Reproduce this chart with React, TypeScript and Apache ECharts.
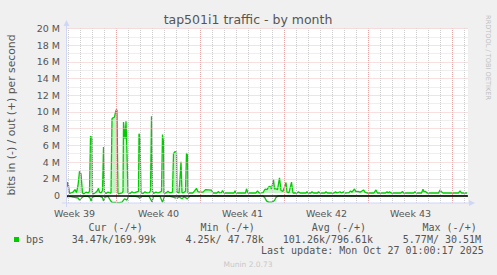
import React, { useEffect, useRef } from "react";
import * as echarts from "echarts";

// time in hours relative to the start of Week 40; values in Mbit/s
const outHours = [-99,-98,-96,-94,-91,-87,-83,-80,-77,-74,-71,-68,-65,-61,-57,-54,-52,-49,-48,-46,-43,-39,-36,-34,-31,-28,-26,-24,-21,-17,-13,-11,-9,-7,-4,-2,0,1,3,4,7,11,13,14,17,19,21,23,27,31,35,39,44,45,47,49,53,57,61,66,68,70,72,74,79,83,90,92,94,95,99,103,107,112,114,117,120,121,125,128,129,131,133,138,140,142,143,147,153,160,163,167,173,178,190,193,201,204,206,210,212,215,235,237,239,258,260,263,279,282,285,293,297,301,304,307,310,314,316,319,322,326,329,333,339,341,345,350,353,361,364,367,379,381,383,389,391,394,402,404,407,417,419,422,435,438,441,447,450,454,457,465,468,471,476,479,483,487,490,494,497,501,515,519,522,538,541,543,546,549,569,572,574,594,597,600,610,613,615,618,621,644,647,650,653,684,687,690,701];
const outMbps = [1.0,1.6,1.2,0.25,0.3,0.4,0.7,0.35,1.2,2.9,2.6,0.3,0.2,0.4,0.3,0.5,7.1,6.9,0.3,0.2,0.3,0.5,0.85,0.4,0.3,0.6,5.8,0.4,0.25,0.4,0.3,0.3,9.2,9.3,9.4,10.0,10.3,10.2,0.3,0.2,0.25,0.3,0.5,8.8,6.8,8.9,5.0,0.3,0.25,0.45,0.3,0.4,0.5,7.4,7.0,0.3,0.25,0.45,0.3,0.35,0.6,9.5,0.5,0.25,0.4,0.3,0.5,7.3,6.4,0.3,0.3,0.5,0.3,0.4,5.0,5.26,5.2,0.4,0.3,3.0,4.05,0.4,0.3,0.5,5.1,4.8,0.3,0.3,0.3,0.85,0.45,0.4,0.4,0.7,0.65,0.3,0.3,0.5,0.3,0.35,0.6,0.3,0.3,0.55,0.3,0.3,0.8,0.3,0.3,0.55,0.3,0.35,0.75,0.7,1.0,1.1,0.8,1.9,0.8,0.8,0.7,2.1,0.6,0.5,1.55,0.4,0.35,1.6,0.3,0.3,0.45,0.3,0.3,0.45,0.3,0.3,0.45,0.3,0.3,0.45,0.3,0.3,0.45,0.3,0.3,0.45,0.3,0.45,0.3,0.45,0.3,0.35,0.55,0.4,0.78,0.45,0.5,0.4,0.5,0.66,0.4,0.3,0.3,0.66,0.3,0.3,0.45,0.3,0.45,0.3,0.3,0.5,0.3,0.3,0.45,0.3,0.3,0.75,0.45,0.5,0.3,0.3,0.66,0.45,0.3,0.3,0.55,0.3,0.3];
const inHours = [-99,-93,-87,-81,-77,-74,-70,-65,-57,-53,-51,-48,-43,-33,-28,-26,-23,-17,-12,-9,-1,5,11,16,21,24,37,43,47,51,65,71,74,87,92,96,107,113,121,125,131,135,142,147,293,297,300,304,311,316,319,323,701];
const inMbps = [-0.15,-0.1,-0.2,-0.25,-0.3,-0.55,-0.3,-0.1,-0.1,-0.3,-0.65,-0.2,-0.1,-0.1,-0.25,-0.65,-0.2,-0.1,-0.6,-0.82,-0.82,-0.85,-0.8,-0.4,-0.55,-0.1,-0.1,-0.15,-0.35,-0.1,-0.1,-0.75,-0.1,-0.1,-0.82,-0.1,-0.1,-0.2,-0.35,-0.15,-0.4,-0.15,-0.4,-0.05,-0.05,-0.3,-0.65,-0.8,-0.8,-0.6,-0.25,-0.05,-0.05];

const weekCenters = [-84, 84, 252, 420, 588];
const weekLabels = ["Week 39", "Week 40", "Week 41", "Week 42", "Week 43"];
const weekStarts = [0, 168, 336, 504, 672];
const yTicks = [0, 2, 4, 6, 8, 10, 12, 14, 16, 18, 20];

const legendHeaders = ["Cur (-/+)", "Min (-/+)", "Avg (-/+)", "Max (-/+)"];
const legendValues = ["34.47k/169.99k", "4.25k/ 47.78k", "101.26k/796.61k", "5.77M/ 30.51M"];
const seriesName = "bps";
const lastUpdate = "Last update: Mon Oct 27 01:00:17 2025";

const X_MIN = -100;
const X_MAX = 703;
const GREEN = "#00cc00";
const MGRID_V = "#eaa4a4";
const GRID_V = "#cccccc";
const MGRID_H = "#f2c0c0";
const GRID_H = "#dedede";
const AXIS = "#cfd6f8";
const FONT = "#555555";
const SANS = "DejaVu Sans";
const MONO = "DejaVu Sans Mono";

export default function App() {
  const ref = useRef<HTMLDivElement>(null);
  useEffect(() => {
    if (!ref.current) return;
    const chart = echarts.init(ref.current, undefined, { renderer: "svg" });

    const gridLines: any[] = [];
    for (let h = -96; h <= 696; h += 24) {
      const major = weekStarts.includes(h);
      gridLines.push({ xAxis: h, lineStyle: { color: major ? MGRID_V : GRID_V, type: [1, 1], width: 1 } });
    }
    for (let m = 1; m <= 20; m++) {
      const major = m % 2 === 0;
      gridLines.push({ yAxis: m * 1e6, lineStyle: { color: major ? MGRID_H : GRID_H, type: [1, 1], width: 1 } });
    }

    const outData = outHours.map((h, i) => [h, outMbps[i] * 1e6]);
    const inData = inHours.map((h, i) => [h, inMbps[i] * 1e6]);

    const headerX = [88.5, 200.5, 311.8, 422.5];
    const valueX = [71.8, 185.5, 282.8, 402.8];

    const graphic: any[] = [
      { type: "text", x: 248, y: 19.6, style: { text: "tap501i1 traffic - by month", font: `12.5px "${SANS}"`, fill: FONT, align: "center", verticalAlign: "middle" } },
      { type: "text", x: 11, y: 115, rotation: Math.PI / 2, style: { text: "bits in (-) / out (+) per second", font: `10.8px "${SANS}"`, fill: FONT, align: "center", verticalAlign: "middle" } },
      { type: "text", x: 488, y: 57.5, rotation: -Math.PI / 2, style: { text: "RRDTOOL / TOBI OETIKER", font: `6.6px "${SANS}"`, fill: "#c0c0c0", align: "center", verticalAlign: "middle" } },
      // axes with arrows
      { type: "line", shape: { x1: 62, y1: 203, x2: 470, y2: 203 }, style: { stroke: AXIS, lineWidth: 1 }, z: 10 },
      { type: "polygon", shape: { points: [[469, 200], [469, 206], [475, 203]] }, style: { fill: AXIS }, z: 10 },
      { type: "line", shape: { x1: 66.5, y1: 207, x2: 66.5, y2: 25 }, style: { stroke: AXIS, lineWidth: 1 }, z: 10 },
      { type: "polygon", shape: { points: [[63.5, 26], [69.5, 26], [66.5, 20]] }, style: { fill: AXIS }, z: 10 },
      // legend
      { type: "rect", shape: { x: 14, y: 237, width: 5, height: 5 }, style: { fill: GREEN } },
      { type: "text", x: 26, y: 239.2, style: { text: seriesName, font: `10px "${MONO}"`, fill: FONT, verticalAlign: "middle" } },
      ...legendHeaders.map((t, i) => ({ type: "text", x: headerX[i], y: 227.5, style: { text: t, font: `10px "${MONO}"`, fill: FONT, verticalAlign: "middle" } })),
      ...legendValues.map((t, i) => ({ type: "text", x: valueX[i], y: 239.2, style: { text: t, font: `10px "${MONO}"`, fill: FONT, verticalAlign: "middle" } })),
      { type: "text", x: 261, y: 250.8, style: { text: lastUpdate, font: `10px "${MONO}"`, fill: FONT, verticalAlign: "middle" } },
      { type: "text", x: 248, y: 264.1, style: { text: "Munin 2.0.73", font: `7.5px "${SANS}"`, fill: "#c8c8c8", align: "center", verticalAlign: "middle" } },
    ];

    chart.setOption({
      animation: false,
      backgroundColor: "#f0f0f0",
      grid: { left: 66.5, right: 29, top: 28.5, bottom: 72, show: true, backgroundColor: "#ffffff", borderWidth: 0 },
      xAxis: {
        type: "value", min: X_MIN, max: X_MAX,
        splitLine: { show: false }, axisLine: { show: false },
        axisTick: { show: true, customValues: weekStarts, length: 3, lineStyle: { color: MGRID_V, width: 1 } },
        axisLabel: {
          customValues: weekCenters,
          formatter: (v: number) => weekLabels[weekCenters.indexOf(Math.round(v))] ?? "",
          color: FONT, fontFamily: SANS, fontSize: 9.5, margin: 5,
        },
      },
      yAxis: {
        type: "value", min: -0.9e6, max: 20e6,
        splitLine: { show: false }, axisLine: { show: false }, axisTick: { show: false },
        axisLabel: {
          customValues: yTicks.map((v) => v * 1e6),
          formatter: (v: number) => (v === 0 ? "0" : `${Math.round(v / 1e6)} M`),
          color: FONT, fontFamily: SANS, fontSize: 9.5, margin: 6.5,
        },
      },
      series: [
        {
          type: "line", data: [], z: 1, silent: true,
          markLine: { silent: true, animation: false, symbol: ["none", "none"], label: { show: false }, emphasis: { disabled: true }, data: gridLines },
        },
        {
          type: "line", data: outData, z: 3, symbol: "none", showSymbol: false,
          lineStyle: { color: GREEN, width: 1.3 },
          areaStyle: { color: "rgba(0,204,0,0.33)", origin: 0.3e6 },
        },
        {
          type: "line", data: inData, z: 3, symbol: "none", showSymbol: false,
          lineStyle: { color: GREEN, width: 1.3 },
        },
        {
          type: "line", data: [], z: 5, silent: true,
          markLine: { silent: true, animation: false, symbol: ["none", "none"], label: { show: false }, emphasis: { disabled: true }, data: [{ yAxis: 0, lineStyle: { color: "#000", width: 1.5, type: "solid" } }] },
        },
      ],
      graphic,
    });
    return () => chart.dispose();
  }, []);
  return <div ref={ref} style={{ position: "fixed", left: 0, top: 0, width: 497, height: 275 }} />;
}
